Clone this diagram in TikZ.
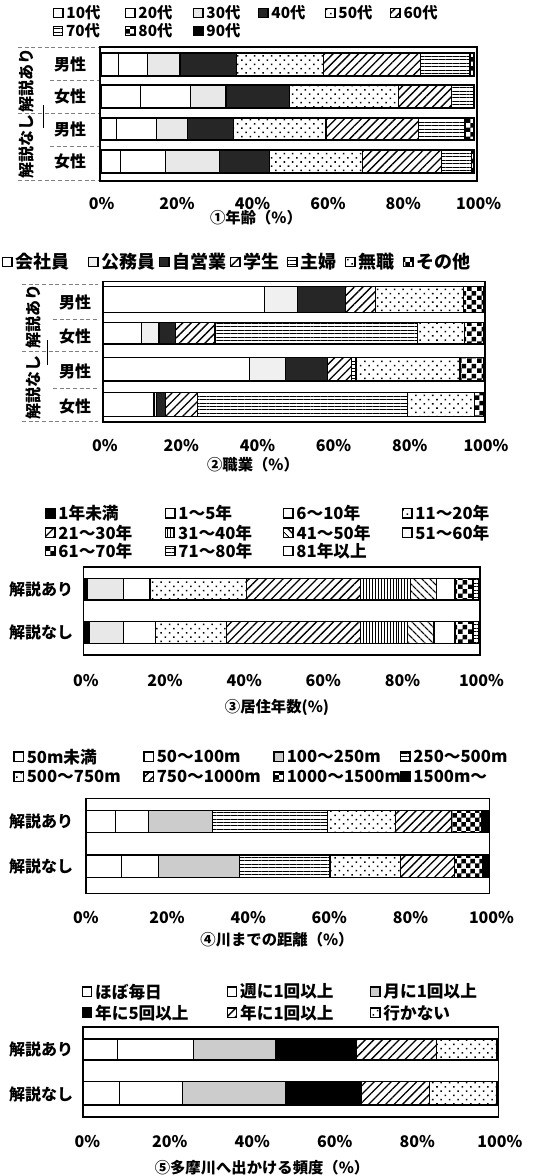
\documentclass[tikz,border=0pt]{standalone}
\usepackage{fontspec}
\setmainfont{Noto Sans CJK JP}
\usepackage{tikz}
\usetikzlibrary{patterns,patterns.meta}
\usetikzlibrary{positioning}

\pgfdeclarepatternformonly{chk}{\pgfpointorigin}{\pgfqpoint{7pt}{7pt}}{\pgfqpoint{7pt}{7pt}}{%
  \pgfpathrectangle{\pgfpointorigin}{\pgfqpoint{3.5pt}{3.5pt}}%
  \pgfpathrectangle{\pgfqpoint{3.5pt}{3.5pt}}{\pgfqpoint{3.5pt}{3.5pt}}%
  \pgfusepath{fill}}

\tikzstyle{frame} = [draw, line width=1.2pt, fill=white]
\tikzstyle{seg} = [draw, line width=0.9pt]
\tikzstyle{wt} = [fill=white]
\tikzstyle{lt} = [fill=black!20]
\tikzstyle{pl} = [fill=black!9]
\tikzstyle{sp} = [fill=black!6]
\tikzstyle{dk} = [fill=black!85]
\tikzstyle{bk} = [fill=black]
\tikzstyle{dt} = [pattern={Dots[distance=4.5pt,angle=45,radius=0.8pt]}]
\tikzstyle{ne} = [pattern={Lines[angle=45,distance=4.5pt,line width=1pt]}]
\tikzstyle{nw} = [pattern={Lines[angle=-45,distance=4pt,line width=1pt]}]
\tikzstyle{hl} = [pattern={Lines[angle=0,distance=2.6pt,line width=0.6pt]}]
\tikzstyle{vl} = [pattern={Lines[angle=90,distance=2.2pt,line width=0.7pt]}]
\tikzstyle{ck} = [pattern=chk]
\tikzstyle{keybox} = [draw, line width=0.9pt, minimum size=7pt, inner sep=0pt, anchor=west]
\tikzstyle{lgdtext} = [inner sep=0pt]
\tikzstyle{tbl} = [gray, densely dashed, line width=0.5pt]

% one bar: x0, width, top, bottom, style/from/to list
\newcommand{\segrow}[5]{%
  \foreach \st/\ps/\pe in {#5}
    \draw[seg,\st] ({#1+#2/100*\ps},#3) rectangle ({#1+#2/100*\pe},#4);
}
% legend key and its text
\newcommand{\lgditem}[5]{%
  \node[keybox,#4] (#1) at (#2,#3) {};
  \node[lgdtext, right=2pt of #1] (#1t) {#5};
}

\begin{document}
\begin{tikzpicture}[x=0.75pt, y=-0.75pt, font=\fontsize{12}{14}\selectfont\bfseries]
  \useasboundingbox (0,0) rectangle (532,1176);

  % (1) age
  \begin{scope}[font=\fontsize{11.5}{13}\selectfont\bfseries]
    \lgditem{ka1}{53}{13}{wt}{10代}
    \lgditem{ka2}{125}{13}{wt}{20代}
    \lgditem{ka3}{193}{13}{pl}{30代}
    \lgditem{ka4}{258}{13}{dk}{40代}
    \lgditem{ka5}{325}{13}{dt}{50代}
    \lgditem{ka6}{390}{13}{ne}{60代}
    \lgditem{ka7}{53}{31}{hl}{70代}
    \lgditem{ka8}{125}{31}{ck}{80代}
    \lgditem{ka9}{193}{31}{bk}{90代}
  \end{scope}
  \foreach \yy in {47,113,180} \draw[tbl] (18,\yy) -- (100,\yy);
  \foreach \yy in {80,146} \draw[tbl] (50,\yy) -- (100,\yy);
  \draw[line width=0.6pt] (43,105) -- (43,128);
  \node[rotate=90] (va1) at (26,81) {解説あり};
  \node[rotate=90] (vb1) at (26,147) {解説なし};
  \node (ra1) at (70,64.5) {男性};
  \node (rb1) at (70,96.5) {女性};
  \node (rc1) at (70,129) {男性};
  \node (rd1) at (70,161.5) {女性};
  \draw[frame] (100,47) rectangle (477,181);
  \segrow{101}{373}{53}{76}{wt/0/4.6, wt/4.6/12.4, pl/12.4/21.2, dk/21.2/36.4, dt/36.4/59.6, ne/59.6/85.7, hl/85.7/98.9, ck/98.9/100}
  \segrow{101}{373}{85}{108}{wt/0/10.6, wt/10.6/24.0, pl/24.0/33.5, dk/33.5/50.5, dt/50.5/79.7, ne/79.7/94.0, hl/94.0/100}
  \segrow{101}{373}{118}{140}{wt/0/4.2, wt/4.2/14.9, pl/14.9/23.1, dk/23.1/35.5, dt/35.5/60.3, ne/60.3/85.1, hl/85.1/97.6, ck/97.6/100}
  \segrow{101}{373}{150}{173}{wt/0/5.3, wt/5.3/17.3, pl/17.3/31.7, dk/31.7/45.1, dt/45.1/70.1, ne/70.1/91.3, hl/91.3/99.4, ck/99.4/100}
  \foreach \p [count=\i from 0] in {0,20,40,60,80,100}
    \node (ax1\i) at ({101.7+75.4*\i},204) {\p\%};
  \node[font=\fontsize{11.5}{13}\selectfont\bfseries] (t1) at (256,218) {①年齢（\%）};

  % (2) occupation
  \begin{scope}[font=\fontsize{13.5}{16}\selectfont\bfseries]
    \lgditem{kb1}{2}{262}{wt}{会社員}
    \lgditem{kb2}{88}{262}{sp}{公務員}
    \lgditem{kb3}{159}{262}{dk}{自営業}
    \lgditem{kb4}{230}{262}{ne}{学生}
    \lgditem{kb5}{287}{262}{hl}{主婦}
    \lgditem{kb6}{345}{262}{dt}{無職}
    \lgditem{kb7}{403}{262}{ck}{その他}
  \end{scope}
  \foreach \yy in {284.3,351.7,421.7} \draw[tbl] (22,\yy) -- (98,\yy);
  \foreach \yy in {319.3,388.3} \draw[tbl] (53,\yy) -- (98,\yy);
  \draw[line width=0.6pt] (47,340) -- (47,365);
  \node[rotate=90] (va2) at (33,317) {解説あり};
  \node[rotate=90] (vb2) at (33,387) {解説なし};
  \node (ra2) at (75,302.7) {男性};
  \node (rb2) at (75,336.7) {女性};
  \node (rc2) at (75,371.7) {男性};
  \node (rd2) at (75,406.7) {女性};
  \draw[frame] (103,281.7) rectangle (485,421.7);
  \segrow{103}{381}{286.7}{312.3}{wt/0/42.3, sp/42.3/51.1, dk/51.1/63.7, ne/63.7/71.6, dt/71.6/94.6, ck/94.6/100}
  \segrow{103}{381}{322.7}{344}{wt/0/10.2, sp/10.2/14.7, dk/14.7/19.1, ne/19.1/29.4, hl/29.4/82.5, dt/82.5/94.8, ck/94.8/100}
  \segrow{103}{381}{357.7}{381}{wt/0/38.4, sp/38.4/47.8, dk/47.8/58.9, ne/58.9/65.3, hl/65.3/66.4, dt/66.4/93.7, ck/93.7/100}
  \segrow{103}{381}{392.3}{416.7}{wt/0/13.4, sp/13.4/14.1, dk/14.1/16.5, ne/16.5/24.9, hl/24.9/79.9, dt/79.9/97.6, ck/97.6/100}
  \foreach \p [count=\i from 0] in {0,20,40,60,80,100}
    \node (ax2\i) at ({105+76.2*\i},446) {\p\%};
  \node[font=\fontsize{11.5}{13}\selectfont\bfseries] (t2) at (253,465) {②職業（\%）};

  % (3) years of residence
  \begin{scope}[font=\fontsize{12.5}{14}\selectfont\bfseries]
    \lgditem{kc1}{45}{513.3}{bk}{1年未満}
    \lgditem{kc2}{165}{513.3}{wt}{1〜5年}
    \lgditem{kc3}{283}{513.3}{wt}{6〜10年}
    \lgditem{kc4}{402}{513.3}{dt}{11〜20年}
    \lgditem{kc5}{45}{532.7}{ne}{21〜30年}
    \lgditem{kc6}{165}{532.7}{vl}{31〜40年}
    \lgditem{kc7}{283}{532.7}{nw}{41〜50年}
    \lgditem{kc8}{402}{532.7}{wt}{51〜60年}
    \lgditem{kc9}{45}{551}{ck}{61〜70年}
    \lgditem{kc10}{165}{551}{hl}{71〜80年}
    \lgditem{kc11}{283}{551}{wt}{81年以上}
  \end{scope}
  \node (ra3) at (41,589.3) {解説あり};
  \node (rb3) at (41,632.7) {解説なし};
  \draw[frame] (83.3,566.7) rectangle (480,655);
  \segrow{85}{394}{578.3}{600}{bk/0/0.6, pl/0.6/9.7, wt/9.7/16.5, dt/16.5/41.0, ne/41.0/70.0, vl/70.0/82.6, nw/82.6/89.2, wt/89.2/93.9, ck/93.9/98.5, hl/98.5/100}
  \segrow{85}{394}{621.7}{643.3}{bk/0/1.1, pl/1.1/9.7, wt/9.7/17.8, dt/17.8/36.0, ne/36.0/70.0, vl/70.0/81.8, nw/81.8/88.6, wt/88.6/93.9, ck/93.9/98.5, hl/98.5/100}
  \foreach \p [count=\i from 0] in {0,20,40,60,80,100}
    \node (ax3\i) at ({86+79.1*\i},681) {\p\%};
  \node[font=\fontsize{11.5}{13}\selectfont\bfseries] (t3) at (277,707.7) {③居住年数(\%)};

  % (4) distance to the river
  \begin{scope}[font=\fontsize{12.5}{14}\selectfont\bfseries]
    \lgditem{kd1}{13.3}{756.7}{wt}{50m未満}
    \lgditem{kd2}{143.3}{756.7}{wt}{50〜100m}
    \lgditem{kd3}{273.3}{756.7}{lt}{100〜250m}
    \lgditem{kd4}{400}{756.7}{hl}{250〜500m}
    \lgditem{kd5}{13.3}{776.7}{dt}{500〜750m}
    \lgditem{kd6}{143.3}{776.7}{ne}{750〜1000m}
    \lgditem{kd7}{273.3}{776.7}{ck}{1000〜1500m}
    \lgditem{kd8}{400}{776.7}{bk}{1500m〜}
  \end{scope}
  \node (ra4) at (41,821.7) {解説あり};
  \node (rb4) at (41,866.7) {解説なし};
  \draw[frame] (86,798.3) rectangle (489.3,893.3);
  \segrow{86}{402.7}{810.7}{832.7}{wt/0/7.3, wt/7.3/15.5, lt/15.5/31.5, hl/31.5/60.0, dt/60.0/76.9, ne/76.9/90.7, ck/90.7/98.3, bk/98.3/100}
  \segrow{86}{402.7}{855}{877.3}{wt/0/8.9, wt/8.9/18.0, lt/18.0/38.1, hl/38.1/60.6, dt/60.6/78.0, ne/78.0/91.6, ck/91.6/98.4, bk/98.4/100}
  \foreach \p [count=\i from 0] in {0,20,40,60,80,100}
    \node (ax4\i) at ({86+81.1*\i},917.3) {\p\%};
  \node[font=\fontsize{11.5}{13}\selectfont\bfseries] (t4) at (277,940) {④川までの距離（\%）};

  % (5) visits to the Tama river
  \begin{scope}[font=\fontsize{12.5}{14}\selectfont\bfseries]
    \lgditem{ke1}{81.7}{991.7}{wt}{ほぼ毎日}
    \lgditem{ke2}{226.7}{991.7}{wt}{週に1回以上}
    \lgditem{ke3}{370}{991.7}{lt}{月に1回以上}
    \lgditem{ke4}{81.7}{1012.7}{bk}{年に5回以上}
    \lgditem{ke5}{226.7}{1012.7}{ne}{年に1回以上}
    \lgditem{ke6}{370}{1012.7}{dt}{行かない}
  \end{scope}
  \node (ra5) at (41,1049.3) {解説あり};
  \node (rb5) at (41,1094.3) {解説なし};
  \draw[frame] (82.7,1026.7) rectangle (498.3,1116.7);
  \segrow{83}{414}{1039}{1060}{wt/0/8.4, wt/8.4/26.6, lt/26.6/46.5, bk/46.5/66.1, ne/66.1/85.4, dt/85.4/100}
  \segrow{83}{414}{1081.7}{1105}{wt/0/8.9, wt/8.9/24.1, lt/24.1/49.0, bk/49.0/67.3, ne/67.3/83.6, dt/83.6/100}
  \foreach \p [count=\i from 0] in {0,20,40,60,80,100}
    \node (ax5\i) at ({87.3+82.5*\i},1141.7) {\p\%};
  \node[font=\fontsize{11.5}{13}\selectfont\bfseries] (t5) at (262,1168) {⑤多摩川へ出かける頻度（\%）};
\end{tikzpicture}
\end{document}
